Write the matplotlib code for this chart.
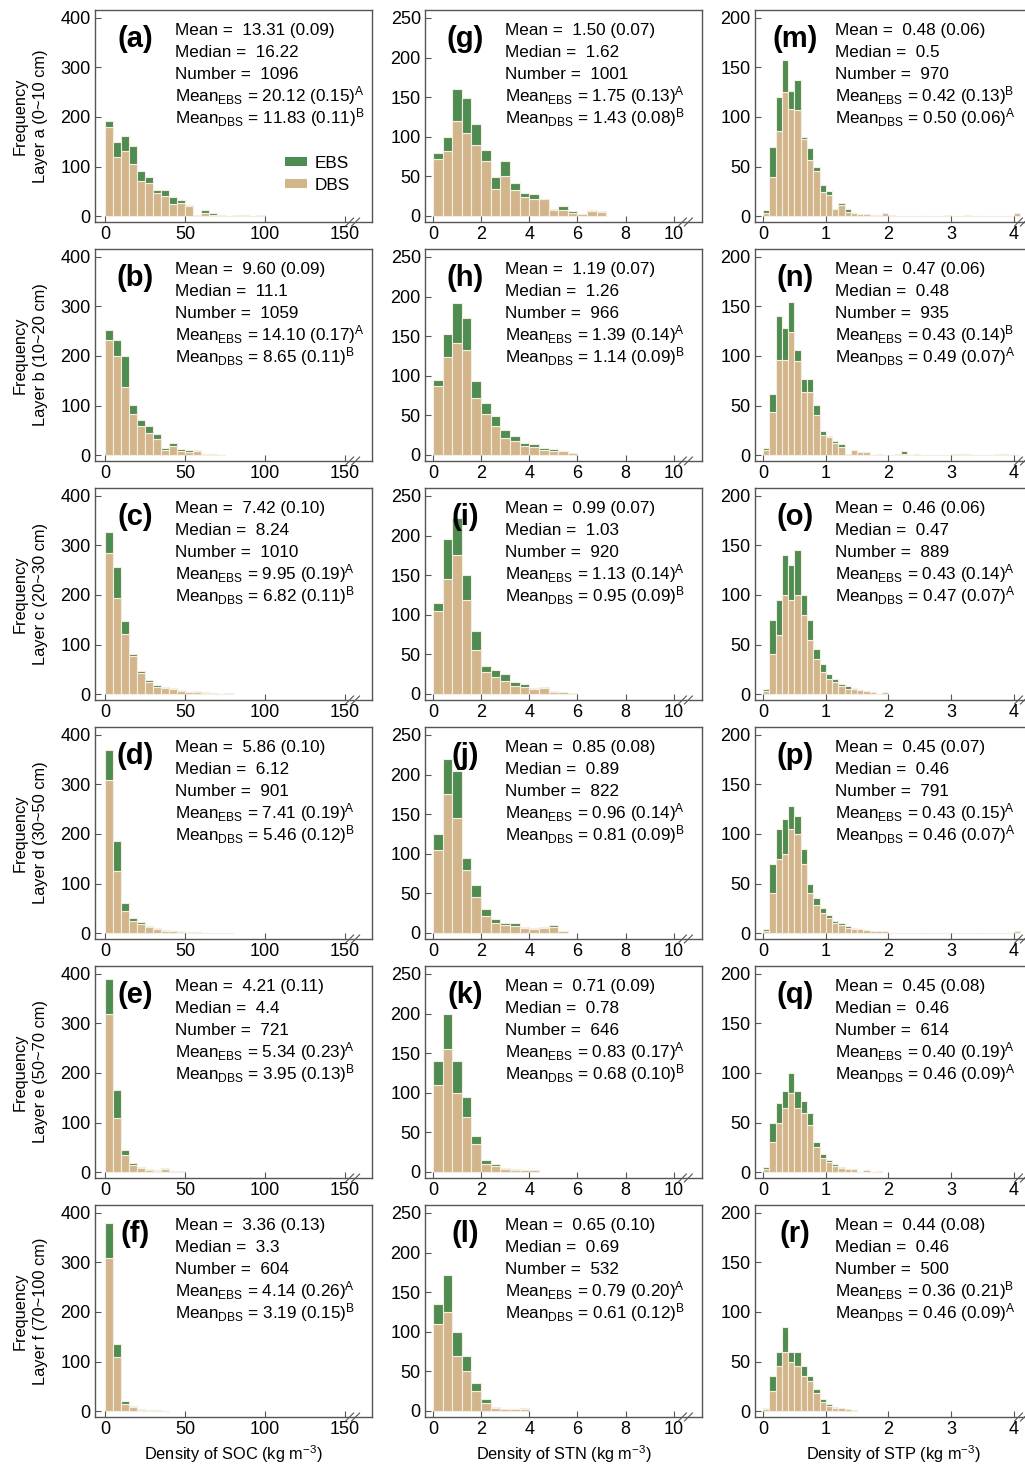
import matplotlib
matplotlib.use('Agg')
import matplotlib.pyplot as plt
from matplotlib.patches import Patch
import numpy as np

plt.rcParams['font.family'] = ['Liberation Sans', 'DejaVu Sans']
plt.rcParams['mathtext.fontset'] = 'custom'
plt.rcParams['mathtext.rm'] = 'Liberation Sans'
plt.rcParams['mathtext.it'] = 'Liberation Sans:italic'
plt.rcParams['mathtext.bf'] = 'Liberation Sans:bold'

# ---- data: bar counts, DBS part and EBS part stacked on top ----
# SOC, bin width 5 starting at 0
a_dbs = [179, 119, 131, 105, 70, 66, 46, 41, 25, 27, 21, 3, 7, 3, 1, 0, 2, 2, 1, 0]
a_ebs = [12, 30, 30, 36, 21, 13, 6, 11, 14, 6, 1, 0, 6, 3, 2, 0, 0, 1, 0, 2]
b_dbs = [232, 199, 138, 82, 58, 44, 33, 11, 19, 8, 7, 9, 2, 2, 1]
b_ebs = [20, 33, 61, 19, 13, 15, 10, 4, 5, 4, 3, 1, 0, 1, 0]
c_dbs = [285, 194, 121, 76, 42, 25, 15, 12, 10, 7, 4, 5, 3, 2, 0, 2]
c_ebs = [42, 63, 26, 4, 5, 3, 3, 2, 2, 1, 1, 1, 1, 0, 0, 0]
d_dbs = [310, 125, 45, 25, 18, 12, 8, 5, 4, 3, 2, 2, 0, 0, 0, 1]
d_ebs = [60, 60, 15, 5, 4, 3, 2, 1, 1, 1, 0, 0, 0, 0, 0, 0]
e_dbs = [320, 110, 35, 14, 8, 5, 3, 6, 2, 2]
e_ebs = [70, 55, 10, 4, 2, 1, 1, 2, 0, 0]
f_dbs = [310, 110, 15, 8, 3, 3, 2, 1]
f_ebs = [70, 25, 5, 2, 2, 0, 0, 0]

# STN, bin width 0.4
g_dbs = [72, 82, 120, 105, 90, 69, 34, 51, 33, 24, 22, 21, 7, 7, 4, 3, 6, 5]
g_ebs = [7, 18, 40, 44, 26, 14, 15, 19, 9, 5, 6, 1, 2, 6, 2, 0, 1, 1]
h_dbs = [87, 124, 141, 132, 72, 52, 36, 22, 18, 11, 10, 6, 5, 5, 2]
h_ebs = [8, 29, 51, 41, 21, 13, 13, 9, 6, 4, 4, 3, 3, 0, 0]
i_dbs = [105, 145, 176, 118, 55, 28, 22, 17, 10, 9, 6, 7, 3, 2, 1]
i_ebs = [10, 50, 46, 32, 25, 7, 8, 8, 5, 3, 2, 2, 1, 0, 0]
j_dbs = [105, 175, 145, 80, 45, 22, 13, 10, 9, 6, 5, 6, 8, 2]
j_ebs = [20, 45, 60, 15, 15, 8, 5, 2, 3, 2, 1, 1, 2, 0]
k_dbs = [110, 155, 100, 70, 35, 10, 7, 4, 3, 2, 2]
k_ebs = [30, 45, 40, 25, 10, 5, 3, 1, 1, 0, 0]
l_dbs = [110, 125, 70, 50, 25, 10, 4, 3, 2, 2]
l_ebs = [25, 47, 30, 20, 10, 5, 1, 0, 0, 2]

# STP, bin width 0.1 (0 to 4.1)
m_dbs = [3, 39, 86, 125, 108, 107, 78, 57, 45, 24, 21, 7, 11, 4, 3, 2, 2, 1, 1, 3,
         1, 0, 0, 0, 0, 0, 0, 0, 0, 0, 0, 0, 1, 0, 0, 0, 0, 0, 0, 0, 3]
m_ebs = [3, 31, 34, 33, 18, 30, 2, 12, 5, 7, 4, 0, 2, 3, 0, 0, 0, 0, 0, 0,
         0, 0, 0, 0, 0, 0, 0, 0, 0, 1, 0, 0, 0, 0, 0, 0, 0, 0, 0, 0, 0]
n_dbs = [5, 43, 96, 96, 124, 95, 64, 64, 40, 20, 18, 12, 8, 1, 5, 3, 3, 0, 1, 0,
         0, 1, 1, 0, 1, 0, 0, 0, 0, 0, 0, 1, 1, 0, 0, 0, 0, 0, 1, 0, 0]
n_ebs = [2, 19, 44, 32, 30, 11, 13, 13, 11, 4, 1, 2, 3, 0, 0, 0, 0, 0, 0, 0,
         0, 0, 3, 0, 0, 0, 0, 0, 0, 0, 1, 0, 0, 0, 0, 0, 0, 1, 0, 0, 0]
o_dbs = [3, 40, 60, 100, 95, 100, 80, 55, 35, 22, 15, 12, 8, 5, 5, 4, 3, 2, 0, 2]
o_ebs = [2, 35, 35, 40, 35, 45, 20, 20, 10, 8, 5, 3, 2, 3, 1, 0, 0, 0, 0, 0]
p_dbs = [2, 40, 75, 80, 105, 100, 70, 40, 28, 20, 15, 10, 8, 5, 4, 4, 3, 2, 2, 2,
         0, 0, 0, 0, 0, 0, 0, 0, 0, 0, 0, 0, 0, 0, 0, 0, 0, 0, 0, 0, 2]
p_ebs = [2, 30, 30, 35, 23, 18, 15, 10, 7, 5, 3, 2, 2, 2, 1, 0, 0, 0, 0, 0,
         0, 0, 0, 0, 0, 0, 0, 0, 0, 0, 0, 0, 0, 0, 0, 0, 0, 0, 0, 0, 0]
q_dbs = [3, 30, 50, 65, 80, 65, 60, 48, 25, 14, 10, 6, 4, 3, 3, 0, 2, 0, 1]
q_ebs = [2, 20, 20, 17, 20, 17, 12, 12, 5, 4, 2, 2, 1, 0, 0, 0, 0, 0, 0]
r_dbs = [2, 20, 45, 60, 50, 45, 35, 30, 18, 9, 5, 3, 3, 2, 1]
r_ebs = [1, 15, 15, 25, 10, 15, 10, 5, 4, 3, 2, 1, 0, 0, 0]

bin_width = [5, 0.4, 0.1]

panel_dbs = [[a_dbs, g_dbs, m_dbs], [b_dbs, h_dbs, n_dbs], [c_dbs, i_dbs, o_dbs],
             [d_dbs, j_dbs, p_dbs], [e_dbs, k_dbs, q_dbs], [f_dbs, l_dbs, r_dbs]]
panel_ebs = [[a_ebs, g_ebs, m_ebs], [b_ebs, h_ebs, n_ebs], [c_ebs, i_ebs, o_ebs],
             [d_ebs, j_ebs, p_ebs], [e_ebs, k_ebs, q_ebs], [f_ebs, l_ebs, r_ebs]]

letters = [['a', 'g', 'm'], ['b', 'h', 'n'], ['c', 'i', 'o'],
           ['d', 'j', 'p'], ['e', 'k', 'q'], ['f', 'l', 'r']]

mean_txt = [['13.31 (0.09)', '1.50 (0.07)', '0.48 (0.06)'],
            ['9.60 (0.09)', '1.19 (0.07)', '0.47 (0.06)'],
            ['7.42 (0.10)', '0.99 (0.07)', '0.46 (0.06)'],
            ['5.86 (0.10)', '0.85 (0.08)', '0.45 (0.07)'],
            ['4.21 (0.11)', '0.71 (0.09)', '0.45 (0.08)'],
            ['3.36 (0.13)', '0.65 (0.10)', '0.44 (0.08)']]
median_txt = [['16.22', '1.62', '0.5'], ['11.1', '1.26', '0.48'], ['8.24', '1.03', '0.47'],
              ['6.12', '0.89', '0.46'], ['4.4', '0.78', '0.46'], ['3.3', '0.69', '0.46']]
number_txt = [['1096', '1001', '970'], ['1059', '966', '935'], ['1010', '920', '889'],
              ['901', '822', '791'], ['721', '646', '614'], ['604', '532', '500']]
ebs_txt = [[('20.12 (0.15)', 'A'), ('1.75 (0.13)', 'A'), ('0.42 (0.13)', 'B')],
           [('14.10 (0.17)', 'A'), ('1.39 (0.14)', 'A'), ('0.43 (0.14)', 'B')],
           [('9.95 (0.19)', 'A'), ('1.13 (0.14)', 'A'), ('0.43 (0.14)', 'A')],
           [('7.41 (0.19)', 'A'), ('0.96 (0.14)', 'A'), ('0.43 (0.15)', 'A')],
           [('5.34 (0.23)', 'A'), ('0.83 (0.17)', 'A'), ('0.40 (0.19)', 'A')],
           [('4.14 (0.26)', 'A'), ('0.79 (0.20)', 'A'), ('0.36 (0.21)', 'B')]]
dbs_txt = [[('11.83 (0.11)', 'B'), ('1.43 (0.08)', 'B'), ('0.50 (0.06)', 'A')],
           [('8.65 (0.11)', 'B'), ('1.14 (0.09)', 'B'), ('0.49 (0.07)', 'A')],
           [('6.82 (0.11)', 'B'), ('0.95 (0.09)', 'B'), ('0.47 (0.07)', 'A')],
           [('5.46 (0.12)', 'B'), ('0.81 (0.09)', 'B'), ('0.46 (0.07)', 'A')],
           [('3.95 (0.13)', 'B'), ('0.68 (0.10)', 'B'), ('0.46 (0.09)', 'A')],
           [('3.19 (0.15)', 'B'), ('0.61 (0.12)', 'B'), ('0.46 (0.09)', 'A')]]

layers = ['a (0~10 cm)', 'b (10~20 cm)', 'c (20~30 cm)', 'd (30~50 cm)',
          'e (50~70 cm)', 'f (70~100 cm)']
xlabels = ['Density of SOC (kg m$^{-3}$)', 'Density of STN (kg m$^{-3}$)',
           'Density of STP (kg m$^{-3}$)']

xlims = [(-6.3, 167), (-0.33, 11.17), (-0.13, 4.29)]
ylims = [(-12, 416), (-7.6, 260), (-6, 208)]
xticks = [[0, 50, 100, 150], [0, 2, 4, 6, 8, 10], [0, 1, 2, 3, 4]]
yticks = [[0, 100, 200, 300, 400], [0, 50, 100, 150, 200, 250], [0, 50, 100, 150, 200]]
break_x = [0.93, 0.94, 0.962]

green = '#4f8c51'
tan = '#d3b58c'
edge = '#f4eee2'
spine_c = '#555555'

W, H = 1025, 1465
fig = plt.figure(figsize=(W / 100, H / 100), dpi=100)

col_left = [95, 425, 755]
ax_w = 277
ax_h = 212

for r in range(6):
    top = 10 + 239 * r
    for c in range(3):
        ax = fig.add_axes([col_left[c] / W, 1 - (top + ax_h) / H, ax_w / W, ax_h / H])
        dbs = np.array(panel_dbs[r][c], dtype=float)
        ebs = np.array(panel_ebs[r][c], dtype=float)
        bw = bin_width[c]
        left = np.arange(len(dbs)) * bw
        ax.bar(left, dbs, width=bw, align='edge', color=tan, edgecolor=edge, linewidth=0.8)
        ax.bar(left, ebs, width=bw, bottom=dbs, align='edge', color=green,
               edgecolor=edge, linewidth=0.8)
        ax.set_xlim(*xlims[c])
        ax.set_ylim(*ylims[c])
        ax.set_xticks(xticks[c])
        ax.set_yticks(yticks[c])
        ax.tick_params(direction='in', length=4, width=0.8, color=spine_c,
                       labelsize=13, pad=3)
        for s in ax.spines.values():
            s.set_color(spine_c)
            s.set_linewidth(1.0)

        # axis break marks on the bottom spine
        bx = break_x[c]
        dx, dy = 4 / ax_w, 4 / ax_h
        for off in (-3 / ax_w, 3 / ax_w):
            ax.plot([bx + off - dx, bx + off + dx], [-dy, dy], color=spine_c,
                    lw=0.8, transform=ax.transAxes, clip_on=False)

        ax.text(0.145, 0.865, '(%s)' % letters[r][c], transform=ax.transAxes,
                fontsize=21, fontweight='bold', ha='center', va='center')
        lines = ['Mean =  ' + mean_txt[r][c],
                 'Median =  ' + median_txt[r][c],
                 'Number =  ' + number_txt[r][c],
                 r'Mean$_{\mathrm{EBS}}$ = ' + ebs_txt[r][c][0] + r'$^{\mathrm{%s}}$' % ebs_txt[r][c][1],
                 r'Mean$_{\mathrm{DBS}}$ = ' + dbs_txt[r][c][0] + r'$^{\mathrm{%s}}$' % dbs_txt[r][c][1]]
        for k, t in enumerate(lines):
            ax.text(0.29, 0.903 - 0.1025 * k, t, transform=ax.transAxes,
                    fontsize=12.3, ha='left', va='center')

        if c == 0:
            ax.set_ylabel('Frequency\nLayer ' + layers[r], fontsize=11.8, labelpad=9,
                          linespacing=1.45)
        if r == 5:
            ax.set_xlabel(xlabels[c], fontsize=11.8, labelpad=4)
        if r == 0 and c == 0:
            ax.legend(handles=[Patch(facecolor=green, label='EBS'),
                               Patch(facecolor=tan, label='DBS')],
                      loc='center left', bbox_to_anchor=(0.63, 0.225), frameon=False,
                      fontsize=12.3, handlelength=1.3, handleheight=0.45,
                      labelspacing=0.4, handletextpad=0.45)

fig.savefig('out.png', dpi=100)
